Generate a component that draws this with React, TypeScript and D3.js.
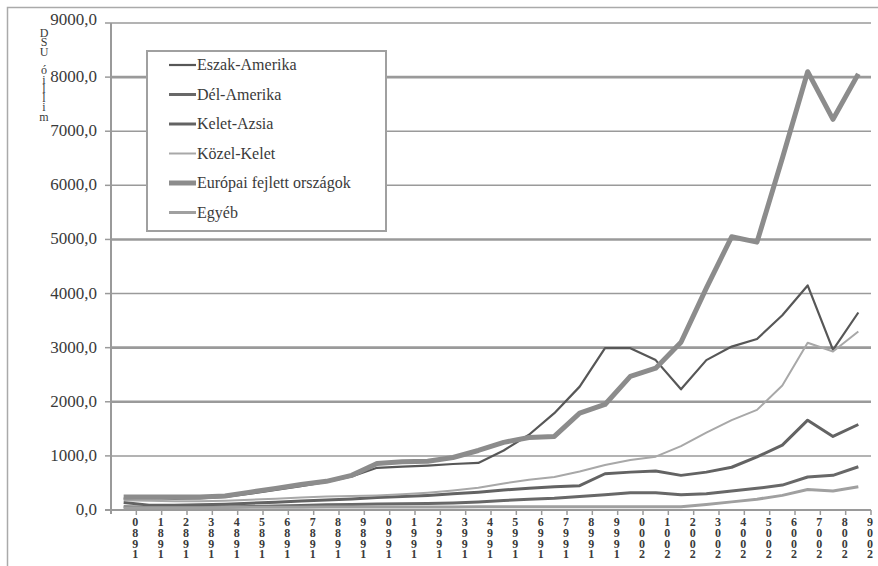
import React from 'react';
import * as d3 from 'd3';

const years = ['1980','1981','1982','1983','1984','1985','1986','1987','1988','1989','1990','1991','1992','1993','1994','1995','1996','1997','1998','1999','2000','2001','2002','2003','2004','2005','2006','2007','2008','2009'];

const seriesNames = ['Eszak-Amerika','Dél-Amerika','Kelet-Azsia','Közel-Kelet','Európai fejlett országok','Egyéb'];

const eszakAmerika = [210,220,210,215,240,300,370,440,520,620,780,800,820,850,870,1100,1390,1790,2280,2990,2990,2770,2230,2770,3020,3160,3600,4150,2960,3650];
const delAmerika = [60,50,50,50,55,65,75,85,95,100,110,115,120,130,150,175,200,215,250,280,320,320,280,300,350,400,460,610,640,800];
const keletAzsia = [140,90,90,95,105,125,145,165,185,205,230,250,270,300,330,370,400,430,450,670,700,720,640,700,790,980,1200,1660,1360,1580];
const kozelKelet = [180,170,160,160,170,190,210,230,250,260,270,290,320,360,410,490,560,610,710,830,925,985,1180,1430,1660,1850,2300,3090,2930,3300];
const europai = [240,240,240,240,260,330,400,470,530,640,860,890,900,970,1100,1250,1340,1360,1790,1950,2470,2620,3100,4100,5050,4950,6500,8100,7220,8060];
const egyeb = [40,40,40,40,45,50,50,50,55,55,55,55,55,55,60,60,60,60,60,60,60,60,60,100,150,200,270,380,350,430];

const seriesValues = [eszakAmerika, delAmerika, keletAzsia, kozelKelet, europai, egyeb];

const yTicks = [0,1000,2000,3000,4000,5000,6000,7000,8000,9000];
const yLabelText = 'millió USD';

// styles
const seriesColors = ['#575757','#686868','#636363','#a8a8a8','#8c8c8c','#a0a0a0'];
const seriesWidths = [2.2,3,3,2,5,3];
const gridWidths = [0,1.5,2.6,2.6,1.5,2.6,1.5,1.5,2.8,1.5];

const W = 878, H = 566;
const L = 111, R = 871, T = 23, B = 510;
const FONT = "'Liberation Serif', 'Times New Roman', 'DejaVu Serif', serif";

export default function App() {
  const x = d3.scaleBand<string>().domain(years).range([L, R]).paddingInner(0).paddingOuter(0);
  const y = d3.scaleLinear().domain([0, 9000]).range([B, T]);
  const cx = (yr: string) => (x(yr) as number) + x.bandwidth() / 2;
  const line = d3.line<number>().x((_, i) => cx(years[i])).y(v => y(v));
  const fmt = (v: number) => d3.format('.1f')(v).replace('.', ',');
  const textColor = '#3a3a3a';
  const ts = { fontFamily: FONT } as React.CSSProperties;

  const legendX = 147, legendY = 51, legendW = 239, legendH = 180;
  const rowStep = 29.5;

  return (
    <div style={{ position: 'absolute', left: 0, top: 0 }}>
      <svg width={W} height={H} style={{ display: 'block', background: '#fff', fontFamily: FONT }}>
        <rect x={7.5} y={7.5} width={1000} height={1000} fill="none" stroke="#aaa" strokeWidth={1.5} />
        {/* gridlines */}
        {yTicks.map((t, i) => i === 0 ? null : (
          <line key={'g' + t} x1={L} x2={R} y1={y(t)} y2={y(t)} stroke="#9a9a9a" strokeWidth={gridWidths[i]} />
        ))}
        {/* y axis */}
        <line x1={L} x2={L} y1={T} y2={B + 4} stroke="#9a9a9a" strokeWidth={2} />
        {yTicks.map(t => (
          <line key={'yt' + t} x1={L - 6} x2={L} y1={y(t)} y2={y(t)} stroke="#9a9a9a" strokeWidth={1.5} />
        ))}
        {yTicks.map(t => (
          <text key={'yl' + t} x={97} y={y(t) + (t === 9000 ? 2 : 5)} textAnchor="end" fontSize={17} fill={textColor} style={ts}>{fmt(t)}</text>
        ))}
        {/* x axis */}
        <line x1={L - 6} x2={R} y1={B} y2={B} stroke="#9a9a9a" strokeWidth={2} />
        {years.map(yr => (
          <line key={'xt' + yr} x1={(x(yr) as number) + x.bandwidth()} x2={(x(yr) as number) + x.bandwidth()} y1={B} y2={B + 5} stroke="#9a9a9a" strokeWidth={1.5} />
        ))}
        {years.map(yr => {
          const px = (x(yr) as number) + x.bandwidth() - 1;
          const chars = yr.split('').reverse();
          return (
            <g key={'xl' + yr}>
              {chars.map((c, j) => (
                <text key={j} x={px} y={526 + j * 10.8} textAnchor="middle" fontSize={12} fontWeight="bold" fill={textColor} style={ts}>{c}</text>
              ))}
            </g>
          );
        })}
        {/* y axis title, stacked */}
        {yLabelText.split('').reverse().map((c, j) => (
          <text key={'ya' + j} x={44} y={37 + j * 9.3} textAnchor="middle" fontSize={12} fill={textColor} style={ts}>{c}</text>
        ))}
        {/* series */}
        {seriesValues.map((vals, si) => (
          <path key={'s' + si} d={line(vals) || ''} fill="none" stroke={seriesColors[si]} strokeWidth={seriesWidths[si]} strokeLinejoin="round" />
        ))}
        {/* legend */}
        <rect x={legendX} y={legendY} width={legendW} height={legendH} fill="#fff" stroke="#a0a0a0" strokeWidth={2} />
        {seriesNames.map((n, i) => {
          const ry = legendY + 14 + i * rowStep;
          return (
            <g key={'lg' + i}>
              <line x1={169} x2={196} y1={ry} y2={ry} stroke={seriesColors[i]} strokeWidth={seriesWidths[i]} />
              <text x={197} y={ry + 5} fontSize={16} fill={textColor} style={ts}>{n}</text>
            </g>
          );
        })}
      </svg>
    </div>
  );
}
